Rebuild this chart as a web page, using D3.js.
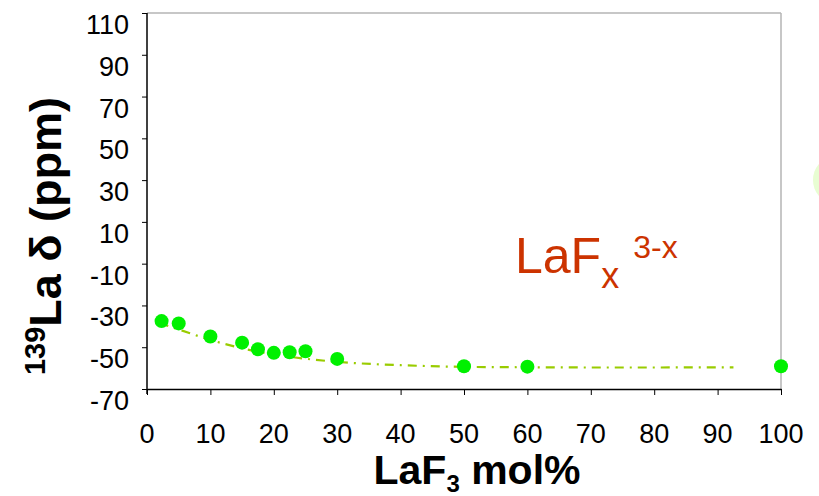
<!DOCTYPE html>
<html><head><meta charset="utf-8">
<script src="https://cdn.jsdelivr.net/npm/d3@7"></script>
<style>html,body{margin:0;padding:0;background:#fff}svg{display:block}</style>
</head><body>
<script>
// Data
const xMol = [2.3, 5, 10, 15, 17.5, 20, 22.5, 25, 30, 50, 60, 100];
const shift = [-37.5, -38.6, -44.9, -47.8, -51, -52.7, -52.4, -51.9, -55.6, -59.1, -59.3, -59.1];
const fitX = [2, 5, 10, 15, 20, 25, 30, 40, 50, 60, 70, 80, 92.5];
const fitY = [-38.5, -41.5, -46.5, -50.5, -53.5, -55.5, -57, -58.6, -59.4, -59.6, -59.7, -59.7, -59.6];
const xTicks = [0,10,20,30,40,50,60,70,80,90,100];
const yTicks = [-70,-50,-30,-10,10,30,50,70,90,110];

const W = 819, H = 496;
const svg = d3.select("body").append("svg").attr("width", W).attr("height", H)
  .style("font-family", "'Liberation Sans', Arial, sans-serif");

const x = d3.scaleLinear().domain([0, 100]).range([147, 781]);
const y = d3.scaleLinear().domain([-70, 110]).range([389, 13]);

// faint decorative shape at right edge
svg.append("ellipse").attr("cx", 832).attr("cy", 180).attr("rx", 19).attr("ry", 22)
  .attr("fill", "#e8fdd2");

// frame (top/right gray)
svg.append("line").attr("x1", x(0)).attr("x2", x(100)).attr("y1", y(110)).attr("y2", y(110))
  .attr("stroke", "#b5b5b5").attr("stroke-width", 1.5);
svg.append("line").attr("x1", x(100)).attr("x2", x(100)).attr("y1", y(110)).attr("y2", y(-70))
  .attr("stroke", "#b5b5b5").attr("stroke-width", 1.5);

// axes
const xAxis = svg.append("g").attr("transform", `translate(0,${y(-70)})`)
  .call(d3.axisBottom(x).tickValues(xTicks).tickSize(6).tickSizeOuter(0).tickFormat(""));
const yAxis = svg.append("g").attr("transform", `translate(${x(0)},0)`)
  .call(d3.axisLeft(y).tickValues(yTicks).tickSize(5).tickSizeOuter(0).tickFormat(""));
[xAxis, yAxis].forEach(g => {
  g.select(".domain").attr("stroke", "#000").attr("stroke-width", 1.5);
  g.selectAll(".tick line").attr("stroke", "#000").attr("stroke-width", 1);
});
yAxis.select(".domain").attr("d", `M0,${y(110)}V${y(-70) + 5}`);

// tick labels
svg.append("g").selectAll("text").data(xTicks).join("text")
  .attr("x", d => x(d)).attr("y", 443).attr("text-anchor", "middle")
  .attr("font-size", 27).attr("fill", "#000").text(d => d);
svg.append("g").selectAll("text").data(yTicks).join("text")
  .attr("x", 129).attr("y", d => y(d) + 21).attr("text-anchor", "end")
  .attr("font-size", 27).attr("fill", "#000").text(d => d);

// fit line
const line = d3.line().x((d, i) => x(fitX[i])).y((d, i) => y(fitY[i])).curve(d3.curveMonotoneX);
svg.append("path").attr("d", line(fitX)).attr("fill", "none")
  .attr("stroke", "#99cc00").attr("stroke-width", 2.2).attr("stroke-dasharray", "9,6,2,6");

// points
svg.append("g").selectAll("circle").data(xMol).join("circle")
  .attr("cx", d => x(d)).attr("cy", (d, i) => y(shift[i])).attr("r", 7)
  .attr("fill", "#00f000");

// annotation
const ann = svg.append("text").attr("x", 515).attr("y", 273).attr("fill", "#cc3300").attr("font-size", 50);
ann.append("tspan").text("LaF");
ann.append("tspan").attr("font-size", 36).attr("dy", 15).text("x");
ann.append("tspan").attr("font-size", 32).attr("dx", 14).attr("dy", -30).text("3-x");

// x title
const xt = svg.append("text").attr("x", 477).attr("y", 484).attr("text-anchor", "middle")
  .attr("font-size", 41).attr("font-weight", "bold").attr("fill", "#000");
xt.append("tspan").text("LaF");
xt.append("tspan").attr("font-size", 24).attr("dy", 8).text("3");
xt.append("tspan").attr("dy", -8).text(" mol%");

// y title
const yt = svg.append("text").attr("transform", "translate(61,236) rotate(-90)")
  .attr("text-anchor", "middle").attr("font-size", 45).attr("font-weight", "bold").attr("fill", "#000");
yt.append("tspan").attr("font-size", 29).attr("dy", -16).text("139");
yt.append("tspan").attr("dy", 16).text("La δ (ppm)");
</script>
</body></html>
